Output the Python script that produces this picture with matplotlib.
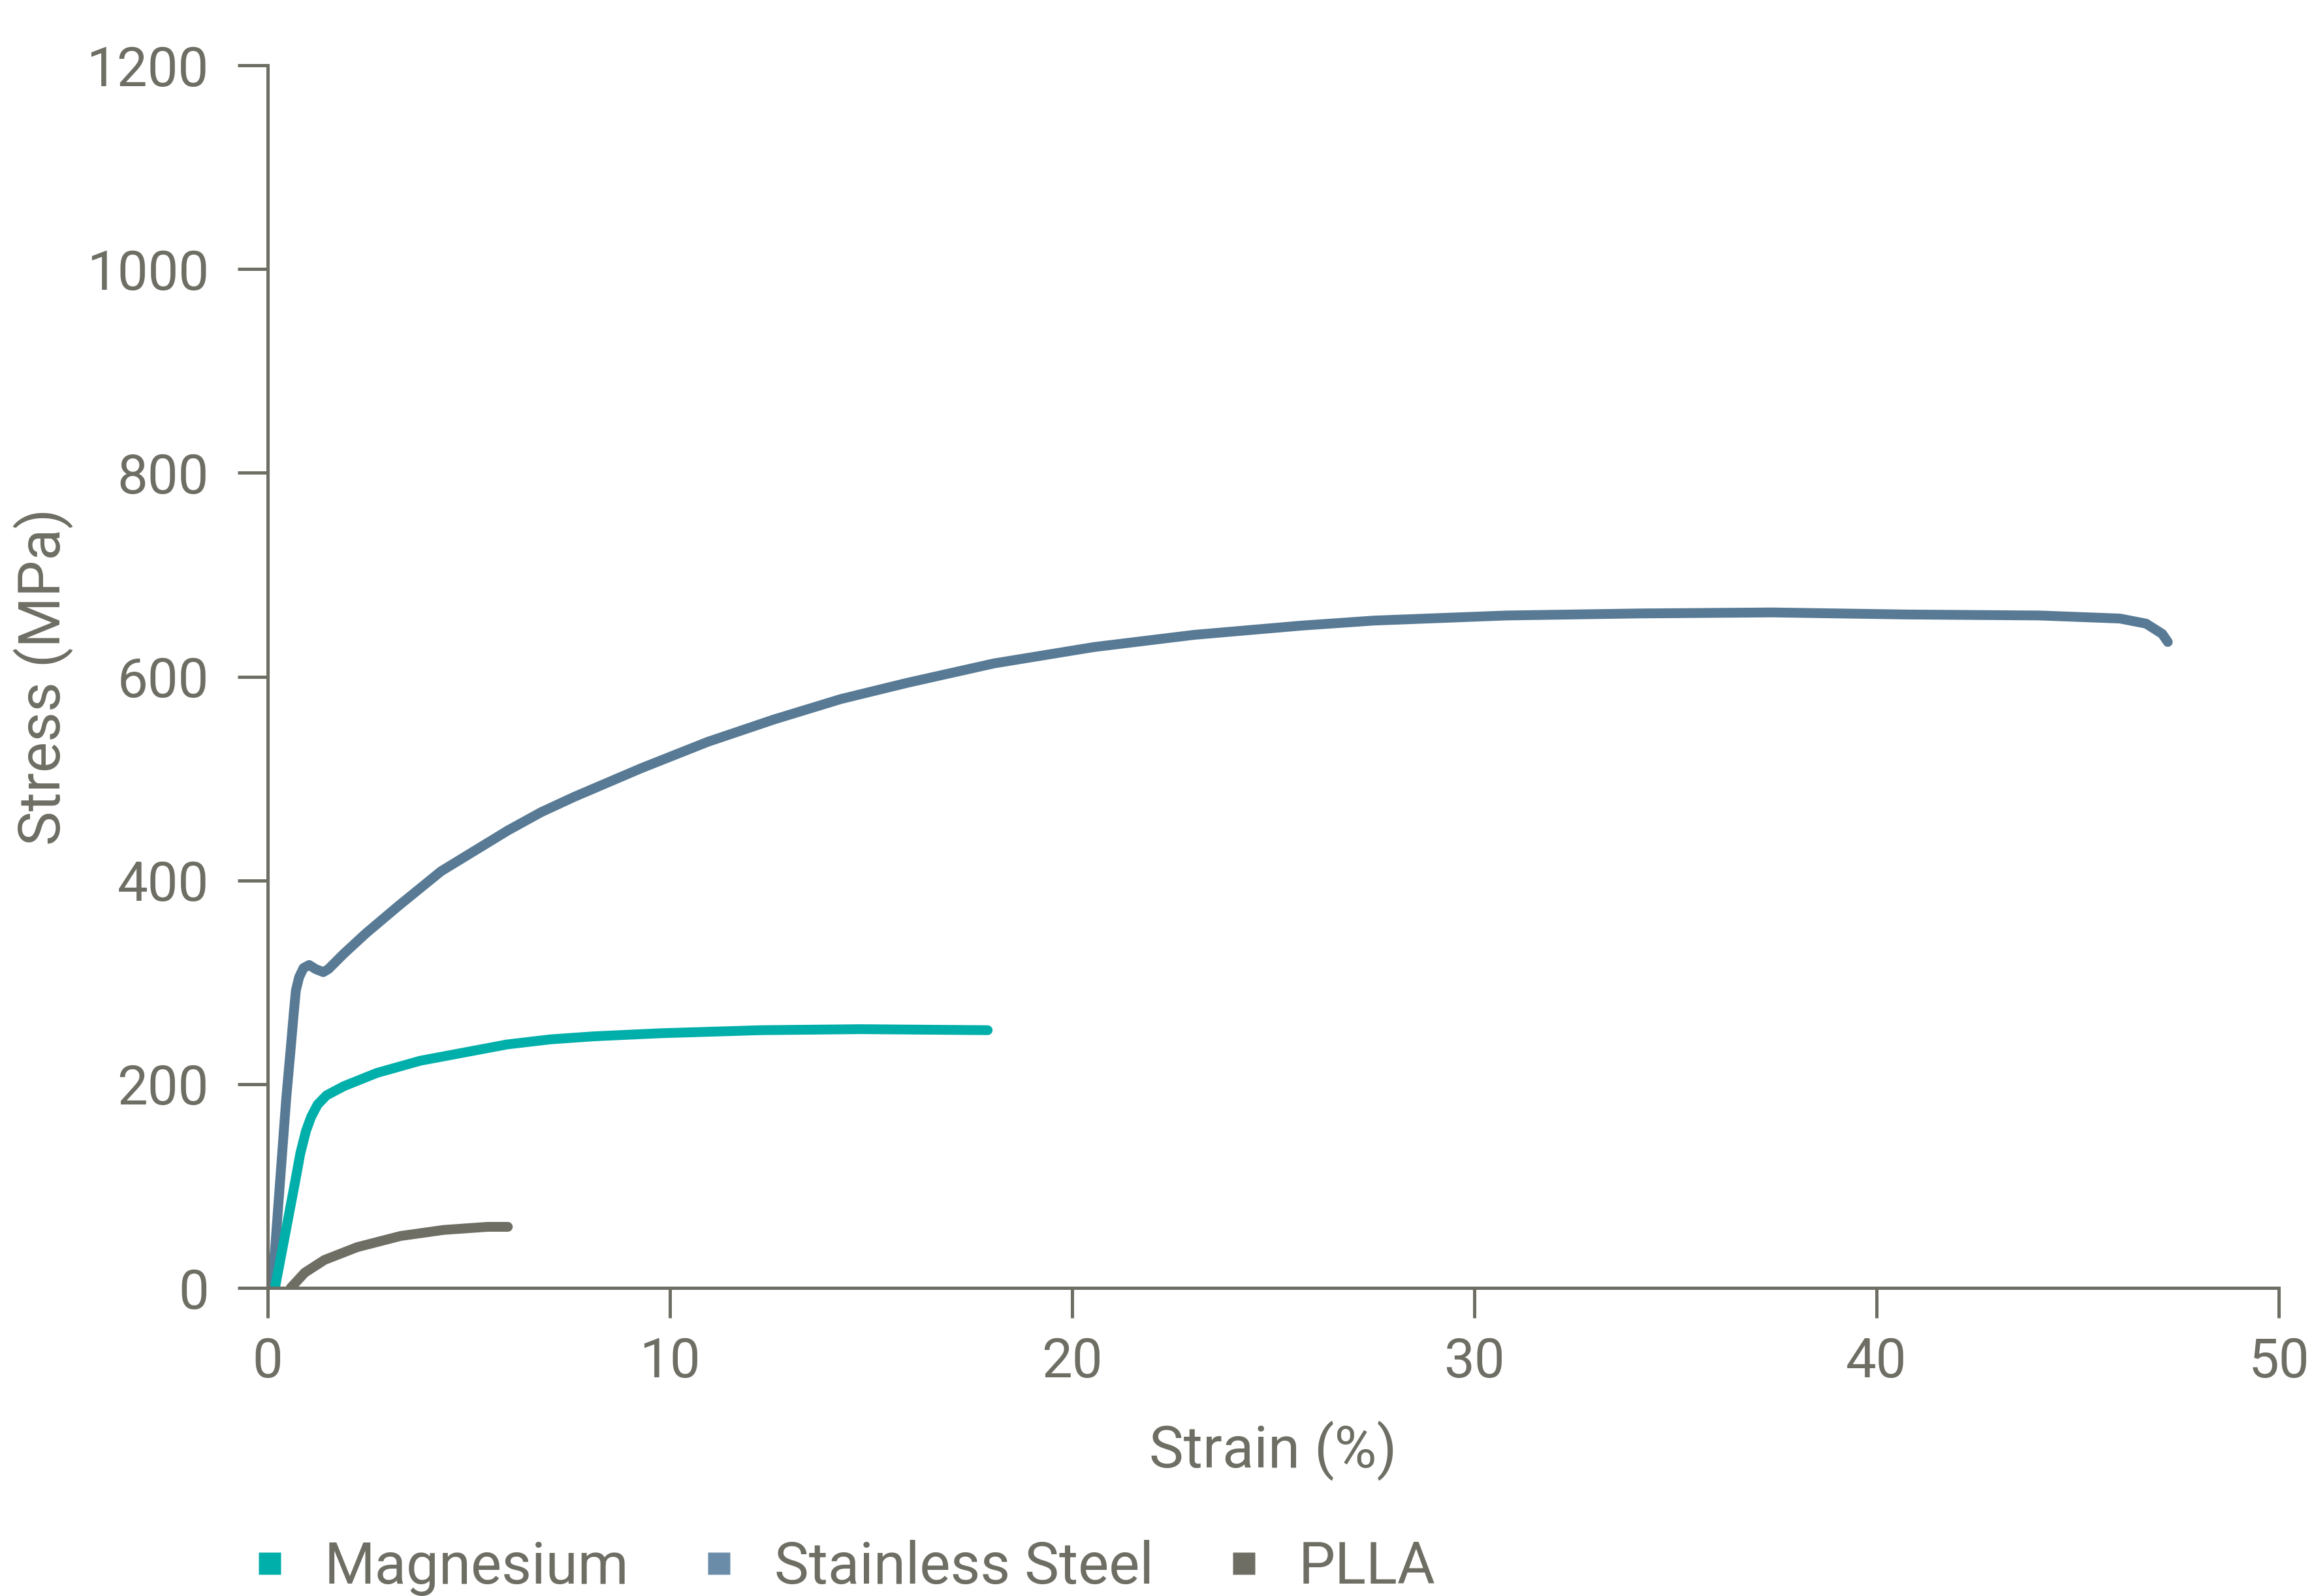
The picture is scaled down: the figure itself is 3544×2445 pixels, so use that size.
import matplotlib.pyplot as plt
from matplotlib.lines import Line2D

plt.rcParams['font.family'] = ['Roboto', 'DejaVu Sans']

# stress-strain curves (strain in %, stress in MPa)
steel_strain = [0.11, 0.27, 0.46, 0.58, 0.65, 0.70, 0.78, 0.89, 1.03, 1.19, 1.38, 1.51,
                1.89, 2.44, 3.25, 4.31, 5.14, 5.97, 6.80, 7.62, 9.28, 10.94, 12.59,
                14.25, 15.91, 18.06, 20.54, 23.03, 25.68, 27.5, 30.8, 34.1, 37.4, 40.7,
                44.06, 46.05, 46.7, 47.1, 47.24]
steel_stress = [0, 85, 186, 239, 271, 292, 305, 314, 317, 313, 310, 313,
                328, 348, 375, 409, 429, 449, 467, 482, 510, 536, 558,
                578, 594, 613, 629, 641, 650, 655, 660, 662, 663, 661,
                660, 657, 652, 642, 634]

mg_strain = [0.18, 0.68, 0.81, 0.95, 1.08, 1.24, 1.46, 1.89, 2.71, 3.79, 4.87, 5.95,
             7.03, 8.12, 9.77, 12.26, 14.74, 17.9]
mg_stress = [0, 104, 132, 154, 168, 180, 189, 198, 211, 223, 231, 239,
             244, 247, 250, 253, 254, 253]

plla_strain = [0.57, 0.92, 1.41, 2.22, 3.30, 4.38, 5.47, 5.97]
plla_stress = [0, 15, 27.5, 40, 51, 57, 60, 60]

series_names = ['Magnesium', 'Stainless Steel', 'PLLA']
line_colors = {'Magnesium': '#00afaa', 'Stainless Steel': '#587a94', 'PLLA': '#6e6e64'}
legend_colors = {'Magnesium': '#00afaa', 'Stainless Steel': '#6a8ca8', 'PLLA': '#6e6e64'}

x_ticks = [0, 10, 20, 30, 40, 50]
y_ticks = [0, 200, 400, 600, 800, 1000, 1200]

grey = '#6e6e64'
fs = 32

fig = plt.figure(figsize=(17.72, 12.225), dpi=200)
ax = fig.add_axes([0.1157, 0.1930, 0.8691, 0.7661])

lw = 5.4
ax.plot(steel_strain, steel_stress, color=line_colors['Stainless Steel'], lw=lw,
        solid_capstyle='round', solid_joinstyle='round')
ax.plot(mg_strain, mg_stress, color=line_colors['Magnesium'], lw=lw,
        solid_capstyle='round', solid_joinstyle='round')
ax.plot(plla_strain, plla_stress, color=line_colors['PLLA'], lw=lw,
        solid_capstyle='round', solid_joinstyle='round')

ax.set_xlim(0, 50)
ax.set_ylim(0, 1200)
ax.set_xticks(x_ticks)
ax.set_yticks(y_ticks)

for side in ['top', 'right']:
    ax.spines[side].set_visible(False)
for side in ['left', 'bottom']:
    ax.spines[side].set_color(grey)
    ax.spines[side].set_linewidth(1.8)

ax.tick_params(axis='both', direction='out', length=16.5, width=1.8, color=grey,
               labelcolor=grey, labelsize=30)
ax.tick_params(axis='y', pad=16)
ax.tick_params(axis='x', pad=10)

ax.set_xlabel('Strain (%)', fontsize=fs, color=grey, labelpad=18)
ax.set_ylabel('Stress (MPa)', fontsize=fs, color=grey, labelpad=7)

handles = [Line2D([], [], ls='none', marker='s', markersize=12.5,
                  markerfacecolor=legend_colors[n], markeredgecolor='none')
           for n in series_names]
leg = fig.legend(handles, series_names, loc='lower left', bbox_to_anchor=(0.1064, 0.0),
                 ncol=3, frameon=False, fontsize=fs, handlelength=0.8, handletextpad=0.55,
                 columnspacing=1.15, borderpad=0, borderaxespad=0)
for t in leg.get_texts():
    t.set_color(grey)

fig.savefig('out.png', dpi=200)
